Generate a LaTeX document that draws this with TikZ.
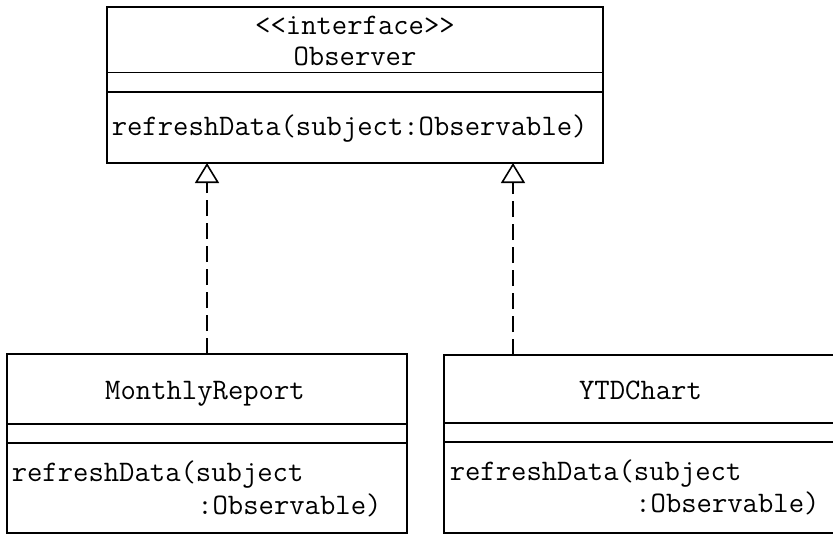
\documentclass[tikz,border=0pt]{standalone}
\usepackage{fontspec}
\usetikzlibrary{arrows.meta,calc}
\begin{document}
\begin{tikzpicture}[x=1pt,y=-1pt,line width=1.6pt,
  box/.style={draw,rectangle,anchor=north west,inner sep=0pt,outer sep=0pt},
  txt/.style={font=\ttfamily\fontsize{29.8}{32.5}\selectfont,inner sep=0pt,anchor=base},
  ltxt/.style={txt,anchor=base west},
  realize/.style={dash pattern=on 16pt off 7pt,
    -{Triangle[open,length=20pt,width=24pt,fill=white]}}]
\useasboundingbox (0,0) rectangle (833,535);
\clip (0,0) rectangle (833,535);
% Observer interface
\node[box,minimum width=496pt,minimum height=156pt] (ob) at (107,7) {};
\draw ($(ob.north west)+(0,65.5)$) -- ($(ob.north east)+(0,65.5)$);
\draw ($(ob.north west)+(0,85)$) -- ($(ob.north east)+(0,85)$);
\node[txt] (obst) at (355,34.5) {<<interface>>};
\node[txt] (obnm) at (355,65.7) {Observer};
\node[ltxt] (obop) at (111,135) {refreshData(subject:Observable)};
% MonthlyReport
\node[box,minimum width=400pt,minimum height=179pt] (ml) at (7,354) {};
\draw ($(ml.north west)+(0,70)$) -- ($(ml.north east)+(0,70)$);
\draw ($(ml.north west)+(0,89)$) -- ($(ml.north east)+(0,89)$);
\node[txt] (mlnm) at (205,399.3) {MonthlyReport};
\node[ltxt] (mlop1) at (11,481.7) {refreshData(subject};
\node[ltxt] (mlop2) at (196.5,514) {:Observable)};
% YTDChart
\node[box,minimum width=393pt,minimum height=178pt] (mr) at (444,355) {};
\draw ($(mr.north west)+(0,68)$) -- ($(mr.north east)+(0,68)$);
\draw ($(mr.north west)+(0,87)$) -- ($(mr.north east)+(0,87)$);
\node[txt] (mrnm) at (640.5,399.3) {YTDChart};
\node[ltxt] (mrop1) at (449,480.7) {refreshData(subject};
\node[ltxt] (mrop2) at (634.5,512.3) {:Observable)};
% realizations
\draw[realize] (ml.north) -- (ml.north |- ob.south);
\coordinate (rt) at ($(mr.north west)+(69,0)$);
\draw[realize] (rt) -- (rt |- ob.south);
\end{tikzpicture}
\end{document}
